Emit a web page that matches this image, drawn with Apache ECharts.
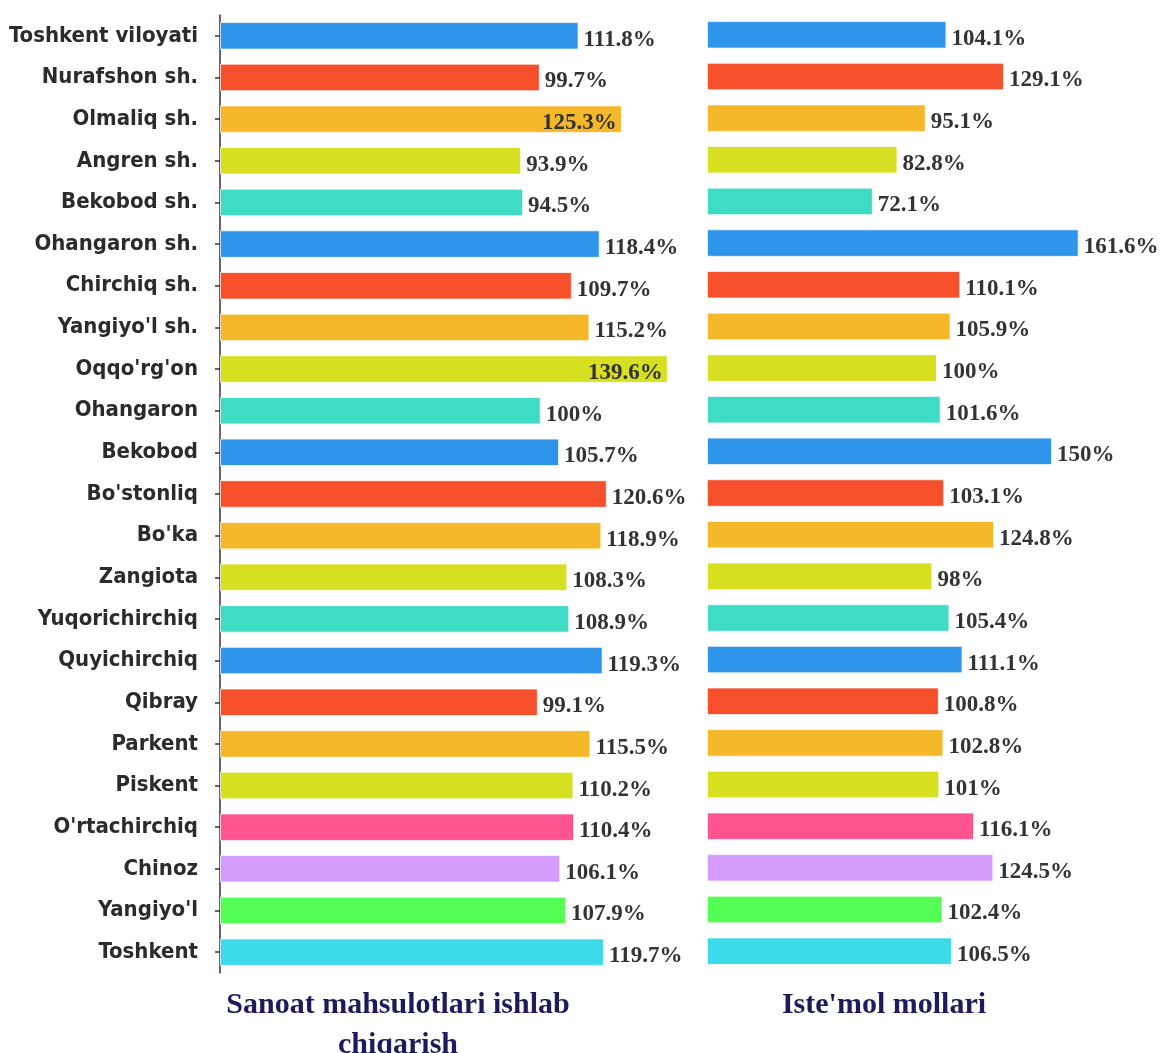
<!DOCTYPE html>
<html>
<head>
<meta charset="utf-8">
<script src="https://cdn.jsdelivr.net/npm/echarts@6/dist/echarts.min.js"></script>
<style>
  html, body { margin: 0; padding: 0; background: #fff; }
  #main { width: 1161px; height: 1053px; }
</style>
</head>
<body>
<div id="main"></div>
<script>
// hududlar
var regions = ['Toshkent viloyati', 'Nurafshon sh.', 'Olmaliq sh.', 'Angren sh.', 'Bekobod sh.',
  'Ohangaron sh.', 'Chirchiq sh.', "Yangiyo'l sh.", "Oqqo'rg'on", 'Ohangaron', 'Bekobod',
  "Bo'stonliq", "Bo'ka", 'Zangiota', 'Yuqorichirchiq', 'Quyichirchiq', 'Qibray', 'Parkent',
  'Piskent', "O'rtachirchiq", 'Chinoz', "Yangiyo'l", 'Toshkent'];

// Sanoat mahsulotlari ishlab chiqarish, %
var sanoat = [111.8, 99.7, 125.3, 93.9, 94.5, 118.4, 109.7, 115.2, 139.6, 100, 105.7, 120.6,
  118.9, 108.3, 108.9, 119.3, 99.1, 115.5, 110.2, 110.4, 106.1, 107.9, 119.7];

// Iste'mol mollari, %
var istemol = [104.1, 129.1, 95.1, 82.8, 72.1, 161.6, 110.1, 105.9, 100, 101.6, 150, 103.1,
  124.8, 98, 105.4, 111.1, 100.8, 102.8, 101, 116.1, 124.5, 102.4, 106.5];

var titles = ['Sanoat mahsulotlari ishlab\nchiqarish', "Iste'mol mollari"];

var palette = ['#2f95ea', '#f54f2c', '#f6b82b', '#d6df20', '#3ddcc3'];
var lastColors = ['#fe5590', '#d59cfe', '#55fe55', '#3ddbea'];

function barColor(i) {
  var k = i - (regions.length - lastColors.length);
  return k >= 0 ? lastColors[k] : palette[i % palette.length];
}

var serif = '"Liberation Serif", "Times New Roman", serif';

var valueFont = {
  fontFamily: serif,
  fontWeight: 'bold',
  fontSize: 23,
  color: '#333'
};

var titleFont = {
  fontFamily: serif,
  fontWeight: 'bold',
  fontSize: 30,
  lineHeight: 40,
  color: '#1d1b5c'
};

function buildData(values, insideAbove) {
  return values.map(function (v, i) {
    var item = { value: v, itemStyle: { color: barColor(i) } };
    if (insideAbove && v > insideAbove) {
      item.label = { position: 'insideRight' };
    }
    return item;
  });
}

var myChart = echarts.init(document.getElementById('main'));

var option = {
  animation: false,
  title: [{
    text: titles[0],
    left: 393,
    top: 980,
    textAlign: 'center',
    textStyle: titleFont
  }, {
    text: titles[1],
    left: 879,
    top: 980,
    textAlign: 'center',
    textStyle: titleFont
  }],
  grid: [
    { left: 220, top: 15, width: 449, height: 958 },
    { left: 707, top: 14, width: 391, height: 958 }
  ],
  xAxis: [
    { gridIndex: 0, type: 'value', min: 0, max: 140, show: false },
    { gridIndex: 1, type: 'value', min: 0, max: 170, show: false }
  ],
  yAxis: [{
    gridIndex: 0,
    type: 'category',
    data: regions,
    inverse: true,
    axisLine: { show: true, lineStyle: { color: '#333', width: 1.5 } },
    axisTick: { show: true, length: 5, alignWithLabel: true, lineStyle: { color: '#333', width: 1.5 } },
    axisLabel: {
      margin: 22,
      fontFamily: '"Liberation Sans Narrow", "DejaVu Sans Condensed", "Roboto", sans-serif',
      fontWeight: 'bold',
      fontSize: 22,
      color: '#2b2b2b'
    },
    splitLine: { show: false }
  }, {
    gridIndex: 1,
    type: 'category',
    data: regions,
    inverse: true,
    show: false
  }],
  series: [{
    name: 'Sanoat',
    type: 'bar',
    xAxisIndex: 0,
    yAxisIndex: 0,
    barWidth: '66%',
    data: buildData(sanoat, 122),
    itemStyle: { borderColor: 'rgba(255,255,255,0.7)', borderWidth: 1 },
    label: {
      show: true,
      position: 'right',
      distance: 5,
      offset: [0, 4],
      formatter: '{c}%',
      textStyle: valueFont
    }
  }, {
    name: 'Istemol',
    type: 'bar',
    xAxisIndex: 1,
    yAxisIndex: 1,
    barWidth: '66%',
    data: buildData(istemol, 0),
    itemStyle: { borderColor: 'rgba(255,255,255,0.7)', borderWidth: 1 },
    label: {
      show: true,
      position: 'right',
      distance: 5,
      offset: [0, 4],
      formatter: '{c}%',
      textStyle: valueFont
    }
  }]
};

myChart.setOption(option, true);
</script>
</body>
</html>
